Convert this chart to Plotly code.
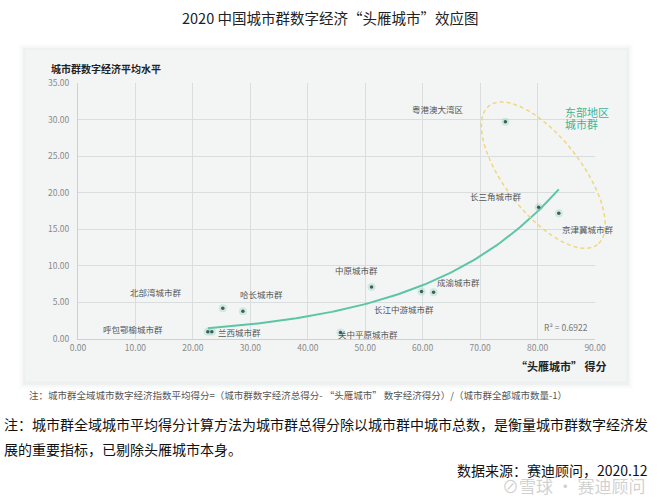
import numpy as np
import plotly.graph_objects as go

# ---------------- data ----------------
clusters = ["粤港澳大湾区", "长三角城市群", "京津冀城市群", "北部湾城市群", "哈长城市群",
            "呼包鄂榆城市群", "兰西城市群", "中原城市群", "长江中游城市群", "成渝城市群",
            "关中平原城市群"]
leader_score = [74.4, 80.2, 83.7, 25.2, 28.7, 22.6, 23.3, 51.1, 59.8, 61.9, 45.7]
avg_level = [29.7, 18.0, 17.2, 4.2, 3.8, 1.0, 1.0, 7.1, 6.5, 6.4, 0.9]
x_ticks = [0, 10, 20, 30, 40, 50, 60, 70, 80, 90]
y_ticks = [0, 5, 10, 15, 20, 25, 30, 35]
r2_text = "R² = 0.6922"

# label anchor positions (data units), separate from the data
label_pos = {
    "粤港澳大湾区": (62.6, 31.4), "长三角城市群": (72.7, 19.5), "京津冀城市群": (88.7, 15.1),
    "北部湾城市群": (13.6, 6.4), "哈长城市群": (32.0, 6.1), "呼包鄂榆城市群": (9.6, 1.4),
    "兰西城市群": (28.1, 0.95), "中原城市群": (48.5, 9.4), "成渝城市群": (66.3, 7.8),
    "长江中游城市群": (56.7, 4.1), "关中平原城市群": (50.5, 0.7),
}

# ---------------- geometry ----------------
W, H = 660, 502
PL, PR, PT, PB = 78, 595, 83, 339
XR, YR = (0, 90), (0, 35)
FONT = "Noto Sans CJK SC"


def px(x):
    return (x - PL) / (PR - PL)


def py(y):
    return (PB - y) / (PB - PT)


# exponential trendline fitted to the data (least squares on ln y)
xa = np.array(leader_score)
ya = np.array(avg_level)
b, lna = np.polyfit(xa, np.log(ya), 1)
tx = np.linspace(xa.min(), xa.max(), 120)
ty = np.exp(lna) * np.exp(b * tx)

fig = go.Figure()

fig.add_trace(go.Scatter(x=tx, y=ty, mode="lines",
                         line=dict(color="#5cc5a5", width=2), hoverinfo="skip"))
fig.add_trace(go.Scatter(x=leader_score, y=avg_level, mode="markers",
                         marker=dict(size=8, color="rgba(120,205,175,0.30)"), hoverinfo="skip"))
fig.add_trace(go.Scatter(x=leader_score, y=avg_level, mode="markers", text=clusters,
                         marker=dict(size=3.5, color="#3f5e58")))

# ---------------- card background ----------------
shapes = []
for grow, alpha in [(6, 0.025), (4, 0.03), (2, 0.045)]:
    shapes.append(dict(type="rect", xref="paper", yref="paper", layer="below",
                       x0=px(25 - grow), x1=px(627 + grow), y0=py(382 + grow + 1), y1=py(49 - grow + 1),
                       fillcolor=f"rgba(90,110,110,{alpha})", line=dict(width=0)))
shapes.append(dict(type="rect", xref="paper", yref="paper", layer="below",
                   x0=px(25), x1=px(627), y0=py(382), y1=py(49),
                   fillcolor="#f3f5f5", line=dict(color="#eceff0", width=1)))

# dashed ellipse around the eastern clusters (paper coords so it is not clipped)
ecx, ecy = 81.0, 22.4            # centre in data units
ea, eb, eth = 88, 38, np.deg2rad(52)  # semi-axes in px, tilt
xpp = (PR - PL) / (XR[1] - XR[0])
ypp = (PB - PT) / (YR[1] - YR[0])
cxp = PL + (ecx - XR[0]) * xpp
cyp = PB - (ecy - YR[0]) * ypp
t = np.linspace(0, 2 * np.pi, 120)
ex = cxp + ea * np.cos(eth) * np.cos(t) - eb * np.sin(eth) * np.sin(t)
ey = cyp + ea * np.sin(eth) * np.cos(t) + eb * np.cos(eth) * np.sin(t)
path = "M " + " L ".join(f"{px(a):.4f},{py(c):.4f}" for a, c in zip(ex, ey)) + " Z"
shapes.append(dict(type="path", xref="paper", yref="paper", path=path, layer="above",
                   line=dict(color="#f0d67c", width=1.5, dash="4px,3px")))

# ---------------- annotations ----------------
ann = []


def note(x, y, text, size, color, xanchor="center", bold=False):
    if bold:
        text = f"<b>{text}</b>"
    ann.append(dict(x=px(x), y=py(y), xref="paper", yref="paper", text=text,
                    showarrow=False, xanchor=xanchor, yanchor="middle",
                    font=dict(family=FONT, size=size, color=color)))


for name in clusters:
    lx, ly = label_pos[name]
    ann.append(dict(x=lx, y=ly, xref="x", yref="y", text=name, showarrow=False,
                    xanchor="center", yanchor="middle",
                    font=dict(family=FONT, size=8.5, color="#555555")))
ann.append(dict(x=84.9, y=1.6, xref="x", yref="y", text=r2_text, showarrow=False,
                xanchor="center", yanchor="middle",
                font=dict(family=FONT, size=8.5, color="#777777")))

note(563, 112, "东部地区", 11, "#45b293", "left")
note(563, 124, "城市群", 11, "#45b293", "left")
note(49, 68, "城市群数字经济平均水平", 10, "#222222", "left", bold=True)
note(609, 366, "“头雁城市” 得分", 11, "#222222", "right", bold=True)
note(330, 17, "2020 中国城市群数字经济“头雁城市”效应图", 14.5, "#222222")
note(27, 395, "注：城市群全域城市数字经济指数平均得分=（城市群数字经济总得分- “头雁城市” 数字经济得分）/（城市群全部城市数量-1）",
     9.5, "#555555", "left")
note(2, 424, "注：城市群全域城市平均得分计算方法为城市群总得分除以城市群中城市总数，是衡量城市群数字经济发",
     14, "#111111", "left")
note(2, 449, "展的重要指标，已剔除头雁城市本身。", 14, "#111111", "left")
note(650, 470, "数据来源：赛迪顾问，2020.12", 14, "#111111", "right")
note(648, 485, "⊘雪球 · 赛迪顾问", 17, "rgba(170,170,170,0.55)", "right")

axis_common = dict(showgrid=True, gridcolor="#d9dddd", gridwidth=1, zeroline=False,
                   showline=True, linecolor="#cdd1d1", linewidth=1, ticks="",
                   tickformat=".2f", tickfont=dict(family=FONT, size=8.5, color="#8a8a8a"),
                   fixedrange=True)

fig.update_layout(
    width=W, height=H,
    margin=dict(l=PL, r=W - PR, t=PT, b=H - PB, pad=0),
    paper_bgcolor="white", plot_bgcolor="rgba(0,0,0,0)",
    showlegend=False,
    xaxis=dict(range=list(XR), tickvals=x_ticks, ticklabelstandoff=1, **axis_common),
    yaxis=dict(range=list(YR), tickvals=y_ticks, ticklabelstandoff=6, **axis_common),
    shapes=shapes, annotations=ann,
    font=dict(family=FONT),
)

fig.write_html("out.html")
